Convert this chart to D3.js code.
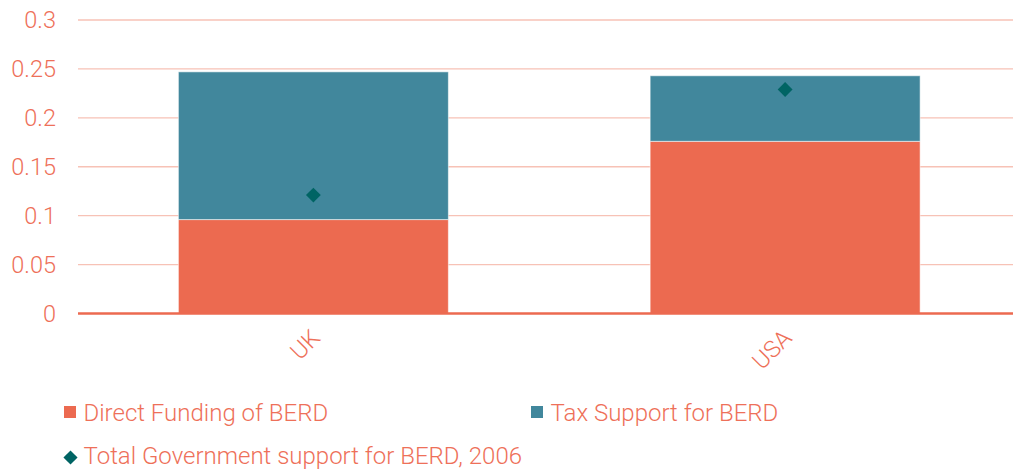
<!DOCTYPE html>
<html>
<head>
<meta charset="utf-8">
<script src="https://cdn.jsdelivr.net/npm/d3@7"></script>
<style>
  html, body { margin: 0; padding: 0; background: #ffffff; }
  svg { display: block; font-family: Roboto, "Noto Sans", sans-serif; font-weight: 300; }
</style>
</head>
<body>
<svg id="chart" width="1013" height="470"></svg>
<script>
// Government support for business R&D (share of GDP, %)
const countries = ["UK", "USA"];
const directFunding = [0.096, 0.176];
const taxSupport = [0.151, 0.067];
const totalSupport2006 = [0.121, 0.229];
const yTicks = [0, 0.05, 0.1, 0.15, 0.2, 0.25, 0.3];
const seriesNames = ["Direct Funding of BERD", "Tax Support for BERD", "Total Government support for BERD, 2006"];

const colors = { direct: "#EC6A50", tax: "#41879C", total: "#006464", grid: "#F7C2B6", text: "#EE7059" };
const axisFont = "23.5px";
const legendFont = "24px";

const svg = d3.select("#chart");
const W = 1013;
const plot = { left: 78, right: 1021, top: 20, bottom: 313.5 };

const x = d3.scaleBand().domain(countries).range([plot.left - 0.5, plot.right]).paddingInner(0.4277).paddingOuter(0.21385);
const y = d3.scaleLinear().domain([0, 0.3]).range([plot.bottom, plot.top]);

// horizontal gridlines
svg.append("g").selectAll("line").data(yTicks.filter(d => d > 0)).join("line")
  .attr("x1", plot.left).attr("x2", W)
  .attr("y1", d => y(d)).attr("y2", d => y(d))
  .attr("stroke", colors.grid).attr("stroke-width", 1.3);

// y axis labels
const yAxis = d3.axisLeft(y).tickValues(yTicks).tickSize(0).tickPadding(0).tickFormat(d => String(d));
const gy = svg.append("g").attr("transform", `translate(${56},0)`).call(yAxis);
gy.select(".domain").remove();
gy.selectAll("text").attr("fill", colors.text).style("font-size", axisFont).style("font-family", "Roboto").style("font-weight", 300);

// stacked bars
const stack = countries.map((c, i) => ({ c, parts: [
  { key: "direct", y0: 0, y1: directFunding[i] },
  { key: "tax", y0: directFunding[i], y1: directFunding[i] + taxSupport[i] }
]}));
const gBars = svg.append("g");
stack.forEach(s => {
  gBars.selectAll(null).data(s.parts).join("rect")
    .attr("x", x(s.c)).attr("width", x.bandwidth())
    .attr("y", d => y(d.y1)).attr("height", d => y(d.y0) - y(d.y1))
    .attr("fill", d => colors[d.key])
    .attr("stroke", "rgba(255,255,255,0.55)").attr("stroke-width", 1);
});

// x axis baseline and category labels
const xAxis = d3.axisBottom(x).tickSize(0).tickPadding(0);
const gx = svg.append("g").attr("transform", `translate(0,${plot.bottom})`).call(xAxis);
gx.select(".domain").remove();
svg.append("line").attr("x1", plot.left).attr("x2", W).attr("y1", plot.bottom).attr("y2", plot.bottom)
  .attr("stroke", colors.direct).attr("stroke-width", 2.3);
gx.selectAll(".tick text")
  .attr("fill", colors.text).style("font-size", axisFont).style("font-family", "Roboto").style("font-weight", 300)
  .attr("text-anchor", "end").attr("dy", 0).attr("y", 0)
  .attr("transform", "translate(8,26) rotate(-45)");

// total support markers
const diamond = d3.symbol().type(d3.symbolSquare).size(110);
svg.append("g").selectAll("path").data(countries).join("path")
  .attr("transform", (c, i) => `translate(${x(c) + x.bandwidth() / 2},${y(totalSupport2006[i])}) rotate(45)`)
  .attr("d", diamond).attr("fill", colors.total);

// legend
const legend = svg.append("g").style("font-size", legendFont).style("font-family", "Roboto").style("font-weight", 300);
const legendItems = [
  { name: seriesNames[0], color: colors.direct, shape: "square", x: 64, y: 412, base: 420.7 },
  { name: seriesNames[1], color: colors.tax, shape: "square", x: 531, y: 412, base: 420.7 },
  { name: seriesNames[2], color: colors.total, shape: "diamond", x: 64, y: 457.5, base: 464 }
];
legendItems.forEach(it => {
  const g = legend.append("g").attr("transform", `translate(${it.x},${it.y})`);
  if (it.shape === "square") {
    g.append("rect").attr("x", 0).attr("y", -6).attr("width", 12).attr("height", 12).attr("fill", it.color);
  } else {
    g.append("path").attr("transform", "translate(6.5,0) rotate(45)")
      .attr("d", d3.symbol().type(d3.symbolSquare).size(100)()).attr("fill", it.color);
  }
  g.append("text").attr("x", 19.5).attr("y", it.base - it.y).attr("fill", colors.text).text(it.name);
});
</script>
</body>
</html>
